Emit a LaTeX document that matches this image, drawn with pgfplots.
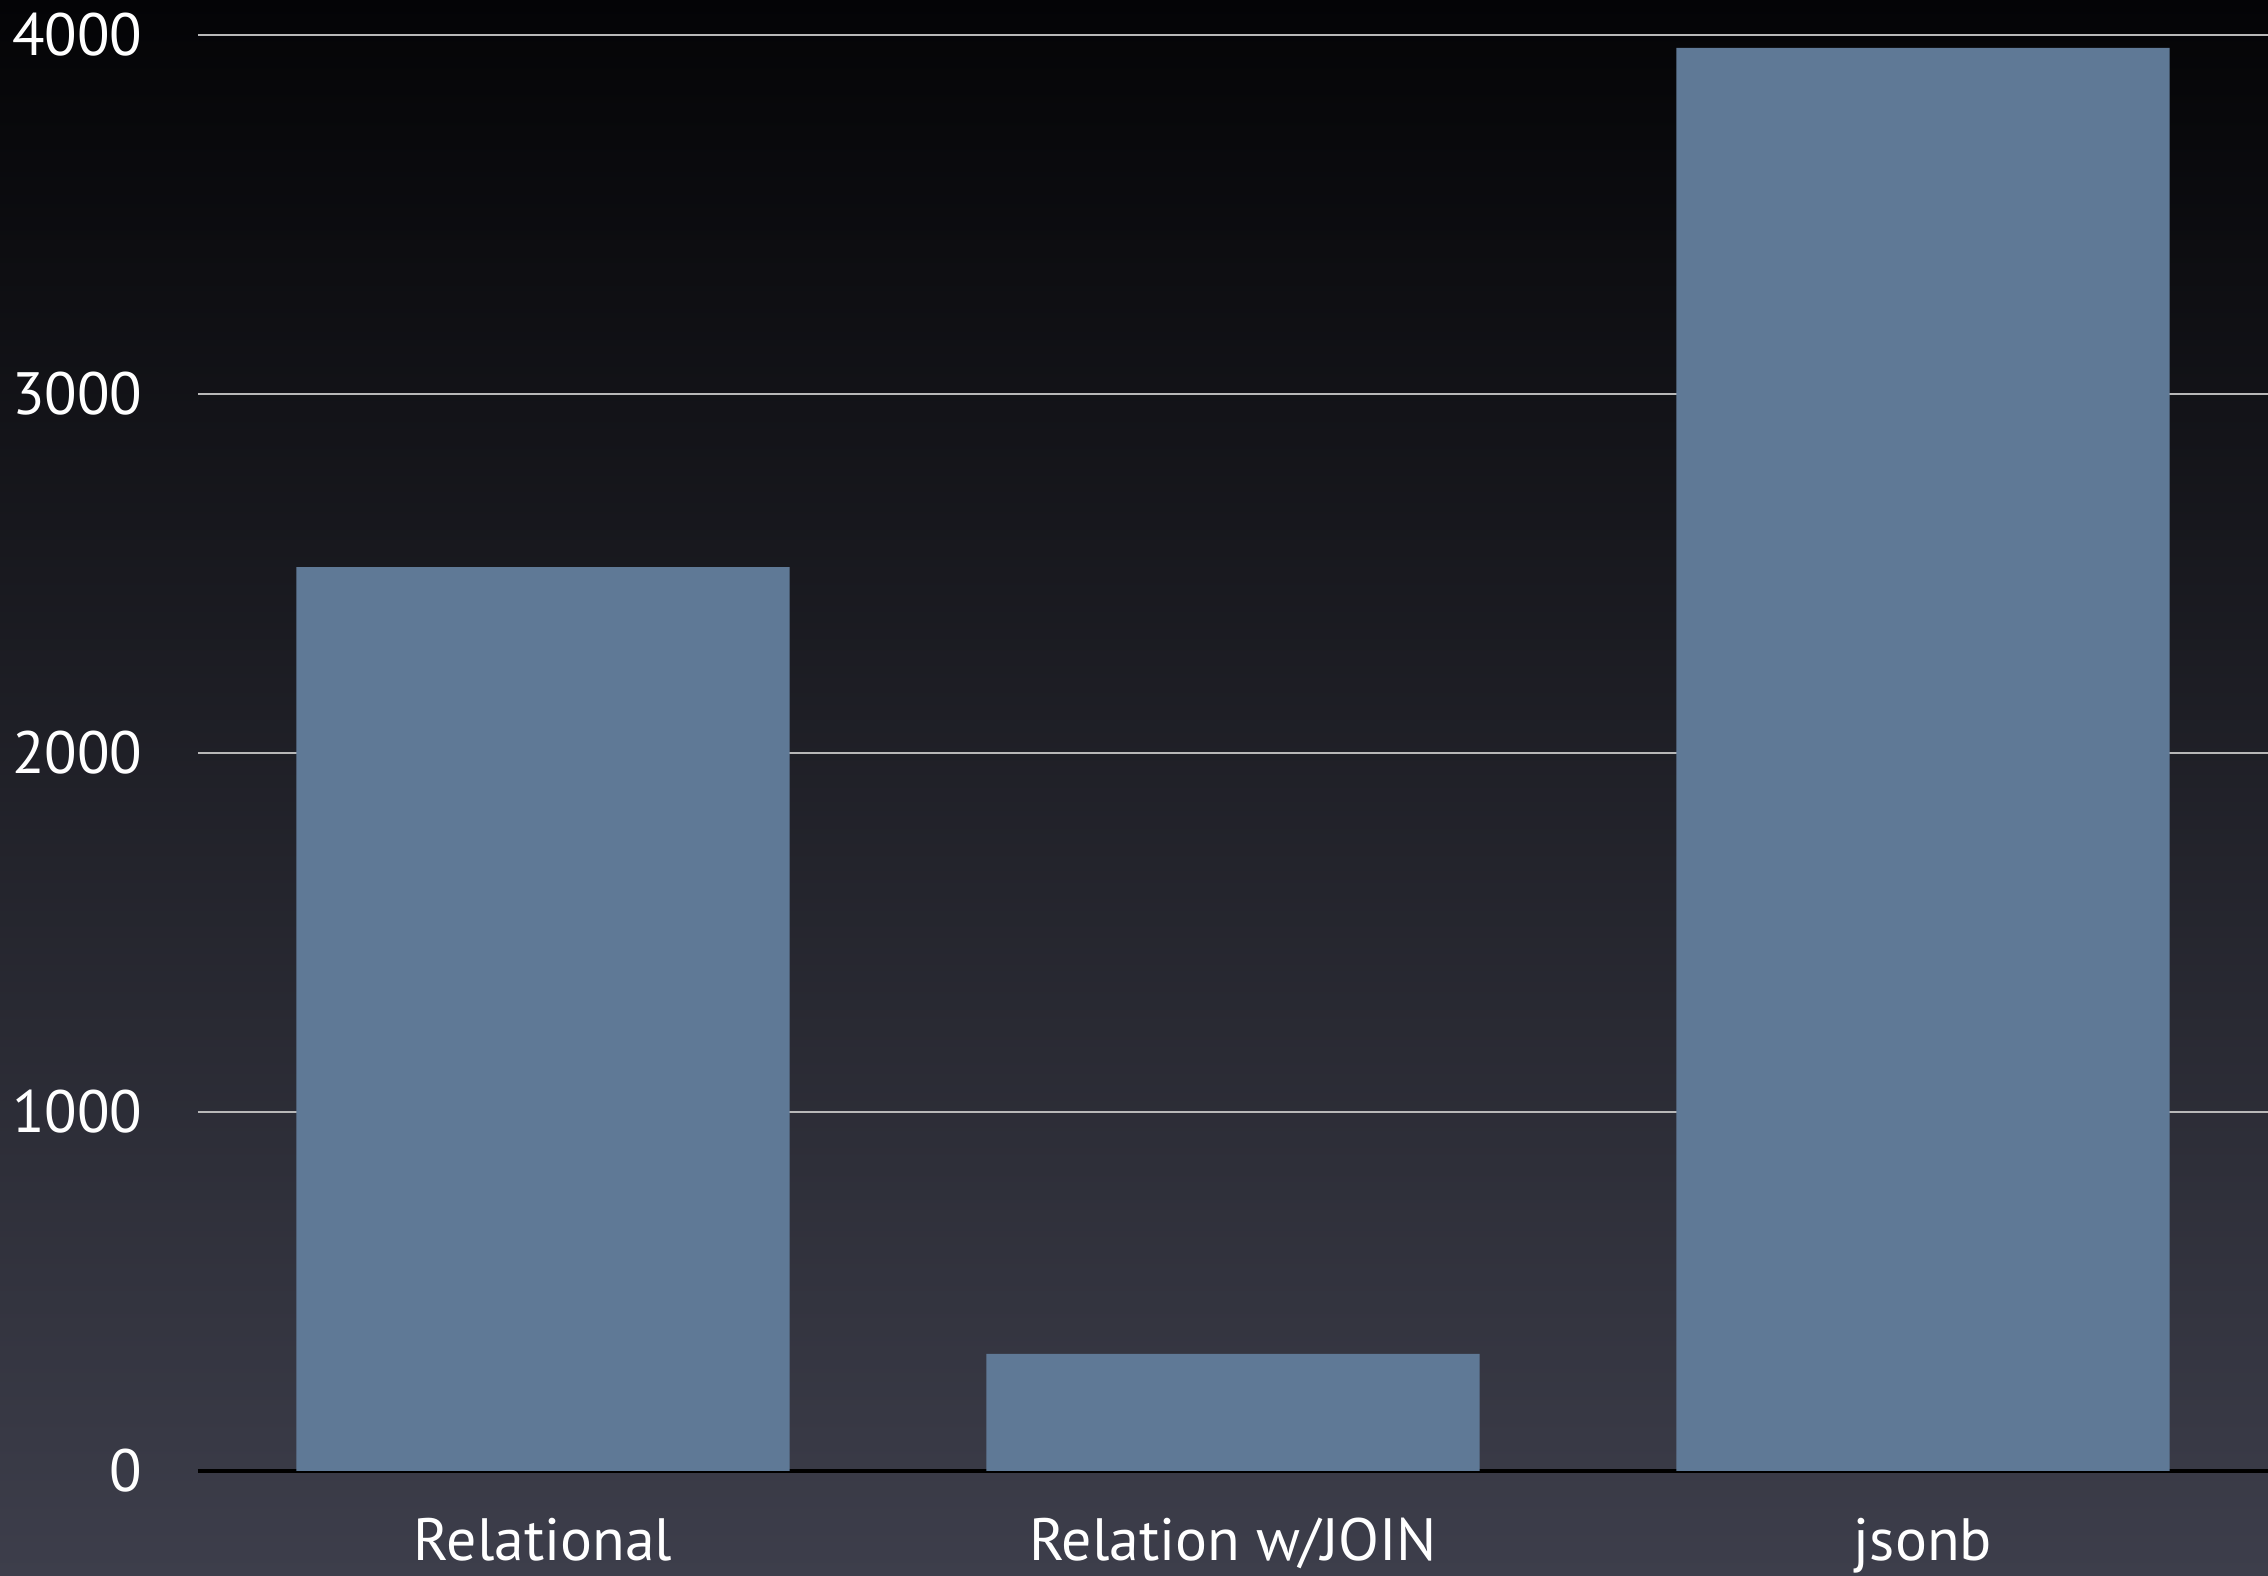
\documentclass[border=0pt]{standalone}
\usepackage{pgfplots}
\pgfplotsset{compat=1.18}
\usepackage{fontspec}
\setmainfont{PT Sans}
\definecolor{bartop}{HTML}{5F7996}
\definecolor{bgtop}{HTML}{040406}
\definecolor{bgmid}{HTML}{1B1B22}
\definecolor{bgbot}{HTML}{3D3E4B}
\definecolor{gridc}{HTML}{B8B8B8}

\begin{document}
\begin{tikzpicture}
  % slide background
  \shade[top color=bgtop, middle color=bgmid, bottom color=bgbot]
    (-19.8mm,-10.5mm) rectangle (207mm,147.1mm);
  \begin{axis}[
    at={(0,0)}, anchor=south west,
    width=207mm, height=143.6mm, scale only axis,
    xmin=-0.5, xmax=2.5, ymin=0, ymax=4000,
    ytick={0,1000,2000,3000,4000},
    xtick={0,1,2},
    xticklabels={Relational, Relation w/JOIN, jsonb},
    axis x line*=bottom, axis y line*=left,
    x axis line style={black, line width=0.35mm, -},
    y axis line style={draw=none},
    major tick length=0pt,
    ymajorgrids=true,
    grid style={gridc, line width=0.22mm},
    /pgf/number format/assume math mode=true,
    scaled y ticks=false,
    yticklabel={\pgfmathprintnumber[fixed,1000 sep={}]{\tick}},
    tick label style={white, font=\fontsize{17}{19}\selectfont},
    yticklabel style={anchor=east, inner sep=0pt, xshift=-5.5mm},
    xticklabel style={anchor=base, inner sep=0pt, yshift=-9.0mm},
    ybar, bar width=0.715, bar shift=0pt,
  ]
    \addplot[fill=bartop, draw=none] coordinates {(0,2518) (1,326) (2,3964)};
  \end{axis}
  \pgfresetboundingbox
  \path[use as bounding box] (-19.8mm,-10.5mm) rectangle (207mm,147.1mm);
\end{tikzpicture}
\end{document}
